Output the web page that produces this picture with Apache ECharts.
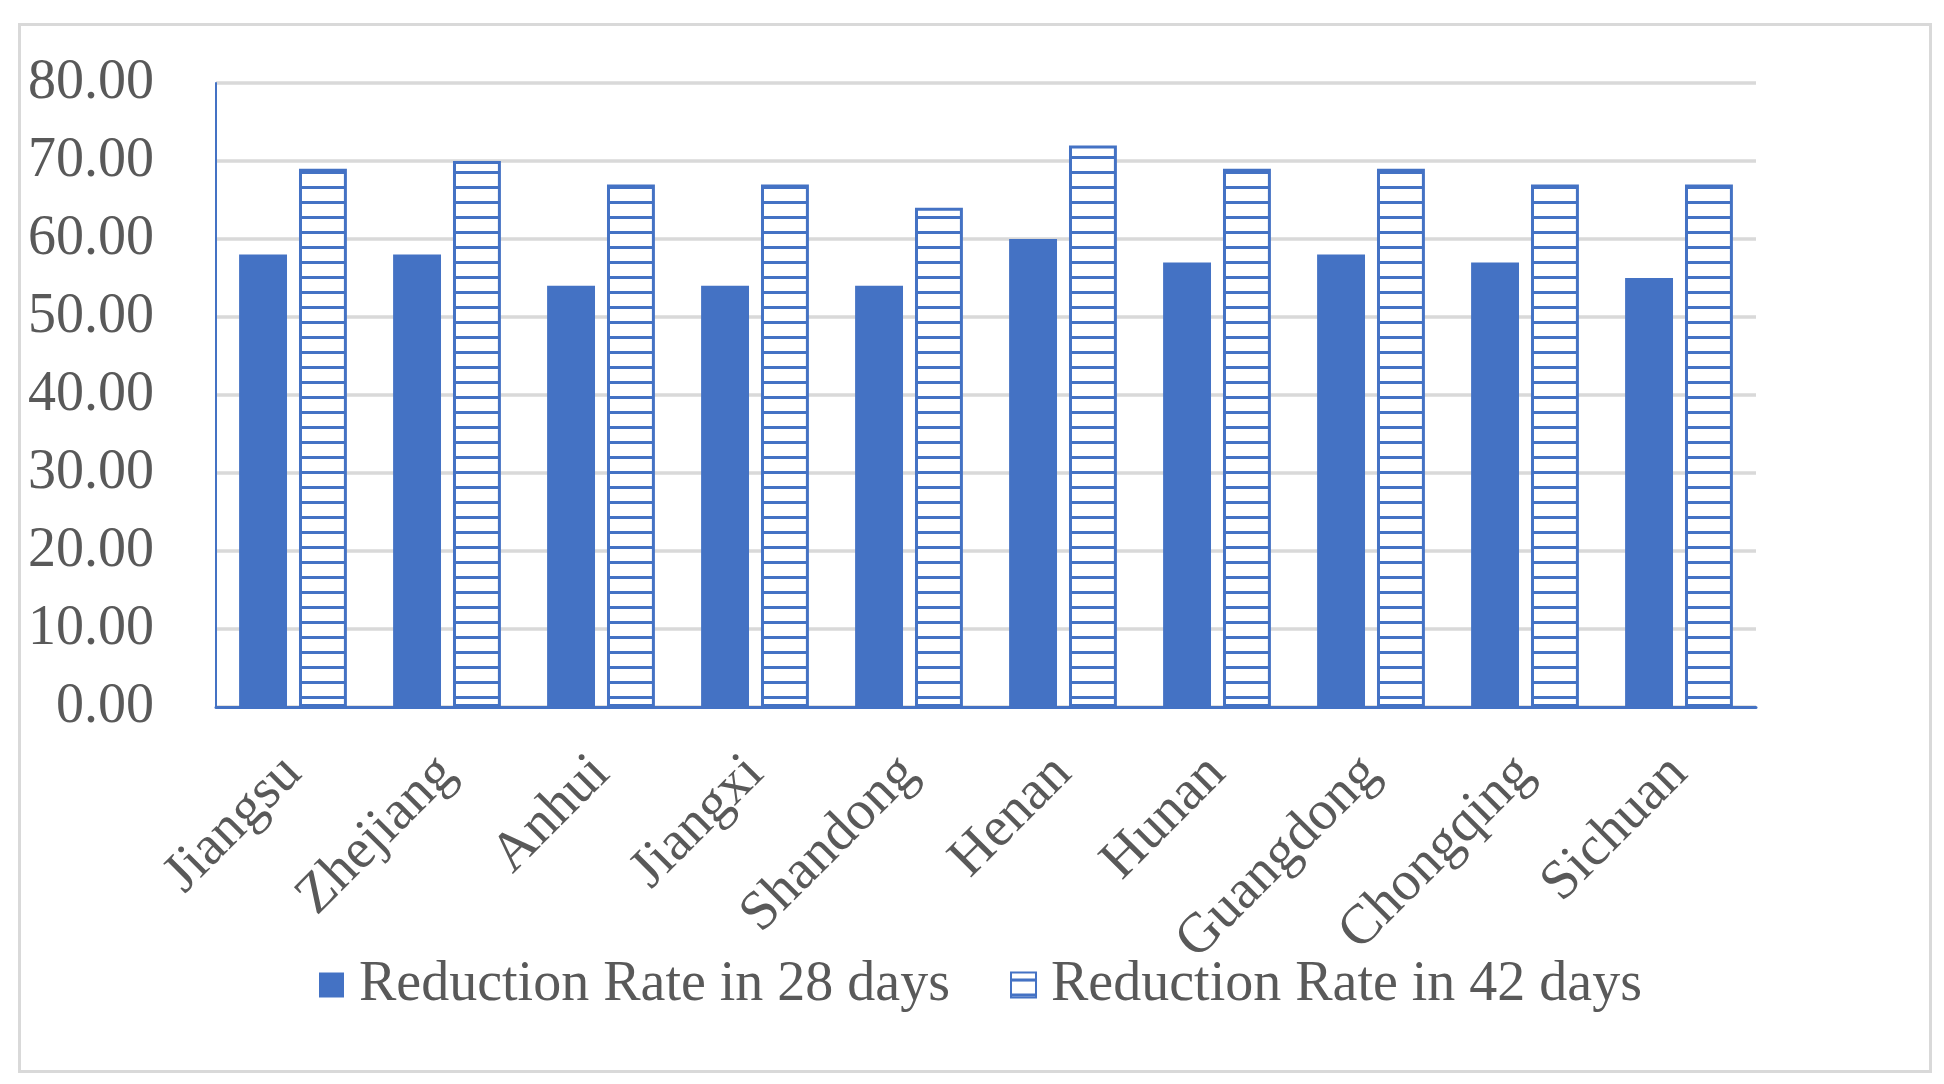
<!DOCTYPE html>
<html>
<head>
<meta charset="utf-8">
<script src="https://cdn.jsdelivr.net/npm/echarts@6/dist/echarts.min.js"></script>
<style>
html,body{margin:0;padding:0;background:#fff;}
#chart{width:1944px;height:1084px;}
</style>
</head>
<body>
<div id="chart"></div>
<script>
const categories = ['Jiangsu','Zhejiang','Anhui','Jiangxi','Shandong','Henan','Hunan','Guangdong','Chongqing','Sichuan'];
const rate28 = [58,58,54,54,54,60,57,58,57,55];
const rate42 = [69,70,67,67,64,72,69,69,67,67];
const seriesNames = ['Reduction Rate in 28 days','Reduction Rate in 42 days'];

const BLUE = '#4472C4';
const TEXT = '#595959';
const FONT = '"Liberation Serif", "Times New Roman", serif';

// horizontal hatch pattern
const pc = document.createElement('canvas');
pc.width = 4; pc.height = 15;
const pctx = pc.getContext('2d');
pctx.fillStyle = '#ffffff';
pctx.fillRect(0,0,4,15);
pctx.fillStyle = BLUE;
pctx.fillRect(0,6,4,3);

const chart = echarts.init(document.getElementById('chart'), null, {renderer:'canvas', devicePixelRatio:1});
chart.setOption({
  backgroundColor:'#ffffff',
  animation:false,
  graphic:[{
    type:'rect', left:17, top:22,
    shape:{x:0,y:0,width:1911,height:1047},
    style:{fill:'none', stroke:'#d9d9d9', lineWidth:3},
    silent:true, z:-1
  }],
  grid:{left:216, right:188, top:83, bottom:377, containLabel:false},
  legend:{
    left:314, top:952, icon:'rect',
    itemWidth:25, itemHeight:25, itemGap:60,
    textStyle:{fontFamily:FONT, fontSize:56, color:TEXT, padding:[0,0,0,10]},
    data:seriesNames
  },
  xAxis:{
    type:'category',
    data:categories,
    axisLine:{show:true, lineStyle:{color:BLUE, width:3}},
    axisTick:{show:false},
    axisLabel:{rotate:45, margin:58, fontFamily:FONT, fontSize:56, color:TEXT, interval:0},
    splitLine:{show:false}
  },
  yAxis:{
    type:'value', min:0, max:80, interval:10,
    axisLine:{show:true, lineStyle:{color:BLUE, width:2}},
    axisTick:{show:false},
    axisLabel:{margin:62, fontFamily:FONT, fontSize:56, color:TEXT, formatter:v=>v.toFixed(2)},
    splitLine:{show:true, lineStyle:{color:'#d9d9d9', width:3.5}}
  },
  series:[
    {
      name:seriesNames[0], type:'bar', data:rate28,
      barGap:'25%', barCategoryGap:'30%',
      itemStyle:{color:BLUE}
    },
    {
      name:seriesNames[1], type:'bar', data:rate42,
      barGap:'25%', barCategoryGap:'30%',
      itemStyle:{color:{image:pc, repeat:'repeat'}, borderColor:BLUE, borderWidth:3}
    }
  ]
});
</script>
</body>
</html>
